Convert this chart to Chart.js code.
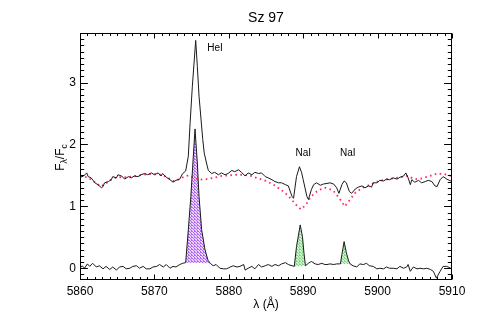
<!DOCTYPE html>
<html><head><meta charset="utf-8">
<script src="https://cdn.jsdelivr.net/npm/chart.js@4/dist/chart.umd.min.js"></script>
<style>html,body{margin:0;padding:0;background:#fff}</style>
</head><body>
<canvas id="c" width="501" height="334" style="width:501px;height:334px;display:block"></canvas>
<script>
// ---- data ----
const chartTitle = 'Sz 97';
const xTitle = 'λ (Å)';
const xRange = [5860, 5910];
const yRange = [-0.19, 3.80];

const specLam = [5860.0,5860.4,5860.9,5861.1,5861.5,5862.0,5862.4,5862.9,5863.1,5863.3,5863.8,5864.2,5864.4,5864.9,5865.1,5865.6,5866.0,5866.5,5866.9,5867.3,5867.8,5868.2,5868.7,5869.1,5869.6,5870.0,5870.5,5870.9,5871.1,5871.6,5872.1,5872.5,5872.9,5873.4,5873.8,5874.2,5874.56,5874.8,5875.1,5875.55,5875.77,5876.0,5876.5,5876.7,5877.0,5877.25,5877.7,5878.1,5878.6,5879.0,5879.5,5879.9,5880.4,5880.8,5881.3,5881.7,5882.2,5882.6,5883.1,5883.5,5884.0,5884.4,5884.9,5885.3,5885.8,5886.2,5886.7,5887.1,5887.6,5888.0,5888.5,5888.7,5889.1,5889.5,5889.8,5890.0,5890.5,5890.7,5891.1,5891.4,5891.8,5892.3,5892.7,5893.2,5893.6,5894.1,5894.5,5894.8,5895.2,5895.5,5895.8,5896.2,5896.5,5897.0,5897.4,5897.9,5898.3,5898.8,5899.2,5899.4,5899.9,5900.3,5900.8,5901.2,5901.6,5902.1,5902.6,5903.0,5903.5,5903.8,5904.1,5904.4,5904.6,5905.0,5905.5,5905.9,5906.4,5906.8,5907.3,5907.7,5908.0,5908.4,5908.8,5909.3,5910.0];
const specFlux = [1.49,1.48,1.54,1.48,1.46,1.38,1.35,1.30,1.32,1.38,1.40,1.43,1.48,1.46,1.51,1.49,1.44,1.48,1.46,1.49,1.48,1.51,1.53,1.51,1.54,1.51,1.54,1.49,1.53,1.47,1.43,1.39,1.42,1.44,1.53,1.57,1.81,2.35,2.94,3.68,3.26,2.78,2.08,1.86,1.70,1.58,1.53,1.55,1.51,1.54,1.51,1.53,1.58,1.56,1.59,1.55,1.49,1.54,1.51,1.55,1.53,1.54,1.48,1.46,1.43,1.40,1.38,1.38,1.35,1.33,1.16,1.13,1.48,1.64,1.54,1.43,1.16,1.11,1.27,1.35,1.38,1.34,1.36,1.37,1.38,1.36,1.30,1.21,1.35,1.41,1.38,1.24,1.21,1.28,1.31,1.33,1.30,1.33,1.31,1.38,1.38,1.42,1.41,1.44,1.43,1.46,1.44,1.47,1.49,1.54,1.46,1.35,1.43,1.39,1.42,1.38,1.40,1.42,1.40,1.33,1.32,1.43,1.48,1.44,1.40];

const tplLam = [5860,5861,5862,5862.8,5863.5,5864,5865,5866,5867,5868,5869,5870,5871,5872,5872.6,5873.2,5874,5874.6,5875.3,5876,5877,5878,5879,5880,5881,5882,5883,5884,5885,5886,5887,5888,5889,5889.7,5890.4,5891,5892,5893,5894,5894.8,5895.6,5896.3,5897,5898,5899,5900,5901,5902,5903,5904,5905,5906,5907,5908,5909,5910];
const tplFlux = [1.48,1.47,1.39,1.32,1.37,1.42,1.47,1.47,1.48,1.50,1.52,1.52,1.51,1.45,1.41,1.43,1.48,1.50,1.46,1.43,1.44,1.46,1.49,1.50,1.51,1.51,1.49,1.45,1.41,1.35,1.27,1.17,1.03,0.95,1.03,1.15,1.26,1.30,1.26,1.14,1.00,1.11,1.22,1.30,1.35,1.40,1.43,1.45,1.47,1.49,1.44,1.45,1.49,1.53,1.52,1.49];

const resLam = [5860.0,5860.3,5860.6,5861.0,5861.3,5861.7,5862.2,5862.6,5863.1,5863.5,5864.0,5864.4,5864.9,5865.3,5865.8,5866.2,5866.7,5867.1,5867.6,5868.0,5868.5,5868.9,5869.4,5869.8,5870.3,5870.7,5871.2,5871.6,5872.1,5872.5,5872.9,5873.4,5873.8,5874.2,5874.56,5874.9,5875.2,5875.46,5875.77,5876.0,5876.35,5876.8,5877.2,5877.5,5877.9,5878.3,5878.8,5879.3,5879.7,5880.2,5880.6,5881.1,5881.5,5882.0,5882.2,5882.6,5883.1,5883.5,5884.0,5884.4,5884.9,5885.3,5885.8,5886.2,5886.7,5887.1,5887.6,5888.0,5888.5,5888.8,5889.1,5889.6,5889.9,5890.1,5890.3,5890.7,5891.1,5891.6,5892.0,5892.5,5892.9,5893.2,5893.6,5894.1,5894.5,5895.0,5895.2,5895.5,5895.8,5896.1,5896.3,5896.7,5897.2,5897.6,5898.1,5898.5,5898.9,5899.4,5899.9,5900.3,5900.8,5901.2,5901.6,5902.1,5902.6,5903.0,5903.5,5903.9,5904.1,5904.4,5904.8,5905.3,5905.7,5906.2,5906.6,5907.1,5907.5,5907.9,5908.4,5908.8,5909.3,5910.0];
const resFlux = [0.00,0.04,0.00,0.07,0.03,0.08,0.02,0.04,-0.01,0.03,-0.02,0.02,-0.03,0.02,0.03,-0.01,0.00,0.03,0.04,0.00,0.03,-0.01,-0.01,0.02,0.03,0.06,0.02,0.06,0.00,0.03,0.02,0.06,0.08,0.09,0.62,1.16,1.75,2.25,1.70,1.16,0.62,0.30,0.13,0.08,0.04,0.06,0.00,-0.01,-0.01,0.02,0.04,0.02,0.03,0.06,-0.03,0.00,0.03,-0.01,0.06,0.02,0.04,0.06,0.03,0.06,0.04,0.07,0.09,0.06,0.04,0.03,0.35,0.70,0.51,0.25,0.04,0.08,0.11,0.07,0.06,0.08,0.06,0.06,0.07,0.06,0.07,0.07,0.22,0.43,0.25,0.12,0.07,0.04,0.02,0.07,0.06,0.08,0.04,0.03,-0.01,0.00,-0.01,0.02,0.00,0.00,-0.01,0.03,0.00,0.02,0.06,-0.05,0.02,-0.01,0.00,-0.01,0.00,-0.02,-0.05,-0.16,-0.05,0.03,0.03,-0.01];

// emission regions (wavelength bounds) filled in the residual spectrum
const heRange = [5874.2, 5877.5];
const naD2Range = [5888.8, 5890.3];
const naD1Range = [5895.0, 5896.3];

// line labels
const lineLabels = ['HeI', 'NaI', 'NaI'];
const labelLam = [5877.1, 5890.0, 5896.0];
const labelFlux = [3.56, 1.85, 1.85];

// ---- helpers ----
const toXY = (xs, ys) => xs.map((x, i) => ({x, y: ys[i]}));
const inRange = (r) => toXY(resLam, resFlux).filter(p => p.x >= r[0] - 1e-9 && p.x <= r[1] + 1e-9);

function makePattern(c1, c2) {
  const pc = document.createElement('canvas');
  pc.width = 3; pc.height = 3;
  const g = pc.getContext('2d');
  g.fillStyle = c2; g.fillRect(0, 0, 3, 3);
  g.fillStyle = c1;
  g.fillRect(0, 0, 1, 1); g.fillRect(1, 1, 1, 1); g.fillRect(2, 2, 1, 1);
  g.fillRect(2, 0, 1, 1);
  return g.createPattern(pc, 'repeat');
}
const ctx0 = document.getElementById('c').getContext('2d');
const purplePat = makePattern('#b068f5', '#e6d4fd');
const greenPat = makePattern('#86d486', '#d2f0d2');

const FONT = '"Liberation Sans", Arial, Helvetica, sans-serif';

const frameTicks = {
  id: 'frameTicks',
  afterDraw(chart) {
    const {ctx, chartArea: a, scales: {x, y}} = chart;
    ctx.save();
    ctx.strokeStyle = '#000';
    ctx.lineWidth = 1;
    const L = Math.round(a.left) + 0.5, R = Math.round(a.right) - 0.5;
    const T = Math.round(a.top) + 0.5, B = Math.round(a.bottom) - 0.5;
    ctx.strokeRect(L, T, R - L, B - T);
    ctx.beginPath();
    for (let v = xRange[0]; v <= xRange[1]; v += 1) {
      const px = Math.round(x.getPixelForValue(v)) + 0.5;
      const len = (v % 10 === 0) ? 5 : 2.5;
      ctx.moveTo(px, B); ctx.lineTo(px, B - len);
      ctx.moveTo(px, T); ctx.lineTo(px, T + len);
    }
    for (let k = Math.ceil(yRange[0] * 10); k <= Math.floor(yRange[1] * 10); k++) {
      const py = Math.round(y.getPixelForValue(k / 10)) + 0.5;
      const len = (k % 10 === 0) ? 7.4 : 3.7;
      ctx.moveTo(L, py); ctx.lineTo(L + len, py);
      ctx.moveTo(R, py); ctx.lineTo(R - len, py);
    }
    ctx.stroke();

    // line labels
    ctx.fillStyle = '#000';
    ctx.font = '10px ' + FONT;
    ctx.textBaseline = 'middle';
    lineLabels.forEach((t, i) => {
      ctx.textAlign = i === 0 ? 'left' : 'center';
      ctx.fillText(t, x.getPixelForValue(labelLam[i]), y.getPixelForValue(labelFlux[i]));
    });

    // y axis title with subscripts: F_λ / F_c
    ctx.translate(60, (a.top + a.bottom) / 2 + 1);
    ctx.rotate(-Math.PI / 2);
    ctx.textAlign = 'left';
    ctx.textBaseline = 'alphabetic';
    const parts = [['F', 12, 0], ['λ', 8.5, 3], ['/F', 12, 0], ['c', 8.5, 3]];
    let total = 0;
    parts.forEach(p => { ctx.font = p[1] + 'px ' + FONT; total += ctx.measureText(p[0]).width; });
    let cx = -total / 2;
    parts.forEach(p => {
      ctx.font = p[1] + 'px ' + FONT;
      ctx.fillText(p[0], cx, 4 + p[2]);
      cx += ctx.measureText(p[0]).width;
    });
    ctx.restore();
  }
};

Chart.defaults.color = '#000';
Chart.defaults.font.family = FONT;

new Chart(ctx0, {
  type: 'line',
  data: {
    datasets: [
      {label: 'spectrum', data: toXY(specLam, specFlux), borderColor: '#1a1a1a', borderWidth: 1, pointRadius: 0, fill: false, tension: 0, order: 1},
      {label: 'template', data: toXY(tplLam, tplFlux), borderColor: '#ff2a5f', borderWidth: 1.8, borderDash: [1.6, 3.4], pointRadius: 0, fill: false, tension: 0, order: 2},
      {label: 'residual', data: toXY(resLam, resFlux), borderColor: '#1a1a1a', borderWidth: 1, pointRadius: 0, fill: false, tension: 0, order: 1},
      {label: 'HeI', data: inRange(heRange), borderWidth: 0, borderColor: 'rgba(0,0,0,0)', backgroundColor: purplePat, pointRadius: 0, fill: 'shape', tension: 0, order: 10},
      {label: 'NaD2', data: inRange(naD2Range), borderWidth: 0, borderColor: 'rgba(0,0,0,0)', backgroundColor: greenPat, pointRadius: 0, fill: 'shape', tension: 0, order: 10},
      {label: 'NaD1', data: inRange(naD1Range), borderWidth: 0, borderColor: 'rgba(0,0,0,0)', backgroundColor: greenPat, pointRadius: 0, fill: 'shape', tension: 0, order: 10}
    ]
  },
  options: {
    responsive: false,
    animation: false,
    devicePixelRatio: 1,
    layout: {padding: {left: 0, right: 49, top: 0, bottom: 0}},
    plugins: {
      legend: {display: false},
      tooltip: {enabled: false},
      title: {display: true, fullSize: false, text: chartTitle, font: {size: 14, weight: 'normal', family: FONT}, color: '#000', padding: {top: 10, bottom: 6.2}}
    },
    scales: {
      x: {
        type: 'linear', min: xRange[0], max: xRange[1],
        grid: {display: false, drawTicks: false}, border: {display: false},
        ticks: {stepSize: 10, padding: 4.5, font: {size: 12}, color: '#000', maxRotation: 0, includeBounds: false, callback: v => String(v)},
        title: {display: true, text: xTitle, font: {size: 12}, color: '#000', padding: {top: 0, bottom: 21.8}},
        afterFit: s => { s.height = 54; }
      },
      y: {
        type: 'linear', min: yRange[0], max: yRange[1],
        grid: {display: false, drawTicks: false}, border: {display: false},
        ticks: {stepSize: 1, padding: 4, font: {size: 12}, color: '#000', includeBounds: false, callback: v => String(v)},
        afterFit: s => { s.width = 80; }
      }
    }
  },
  plugins: [frameTicks]
});
</script>
</body></html>
